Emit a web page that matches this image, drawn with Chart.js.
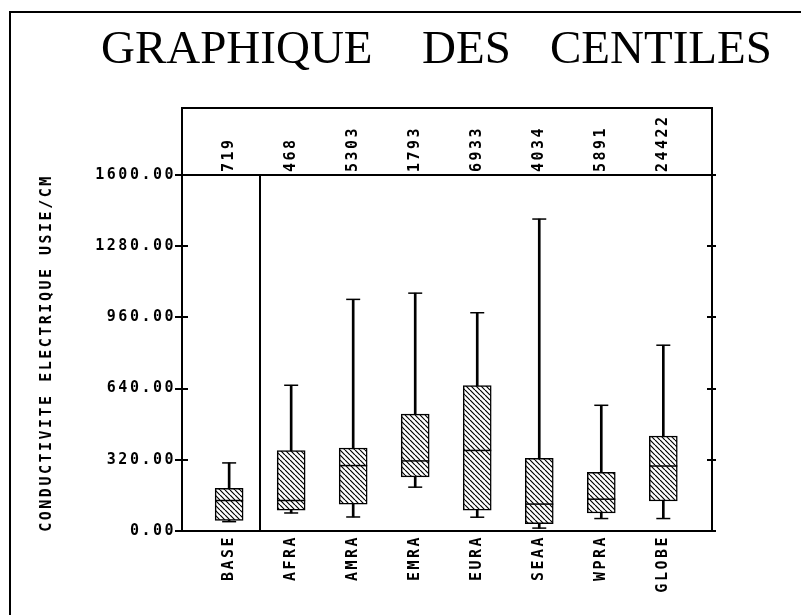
<!DOCTYPE html>
<html>
<head>
<meta charset="utf-8">
<script src="https://cdn.jsdelivr.net/npm/chart.js@4.4.0/dist/chart.umd.min.js"></script>
<style>
  html, body { margin: 0; padding: 0; background: #fff; }
</style>
</head>
<body>
<canvas id="graphiqueCentiles" width="801" height="615"></canvas>
<script>
// Régions et effectifs
const categories = ["BASE", "AFRA", "AMRA", "EMRA", "EURA", "SEAA", "WPRA", "GLOBE"];
const effectifs = [719, 468, 5303, 1793, 6933, 4034, 5891, 24422];

// Centiles (uS/cm)
const centileBas = [42, 81, 63, 197, 62, 13, 56, 56];
const quartileBas = [47, 94, 121, 243, 94, 33, 81, 135];
const mediane = [137, 137, 294, 315, 362, 121, 143, 292];
const quartileHaut = [192, 362, 373, 525, 654, 327, 264, 427];
const centileHaut = [306, 655, 1041, 1069, 981, 1402, 565, 835];

const graduationsY = [0, 320, 640, 960, 1280, 1600];

const POLICE = "'DejaVu Sans Mono', monospace";
const TAILLE = 15;
const X_MIN = -0.76;
const X_MAX = 7.785;
// l'axe du haut décale ses étiquettes tournées d'une hauteur de ligne vers la gauche
const DECALAGE_HAUT = (TAILLE * 1.2) / 62;

function hachures() {
  const c = document.createElement("canvas");
  c.width = c.height = 5;
  const g = c.getContext("2d");
  g.fillStyle = "#fff";
  g.fillRect(0, 0, 5, 5);
  g.strokeStyle = "#000";
  g.lineWidth = 1.2;
  g.beginPath();
  [-5, 0, 5].forEach((d) => {
    g.moveTo(d, 0);
    g.lineTo(d + 5, 5);
  });
  g.stroke();
  return g.createPattern(c, "repeat");
}

const memesTicks = (scale) => {
  scale.ticks = categories.map((c, i) => ({ value: i }));
};

const habillage = {
  id: "habillage",
  beforeDraw(chart) {
    chart.ctx.letterSpacing = "2.5px";
  },
  beforeDatasetsDraw(chart) {
    chart.ctx.letterSpacing = "0px";
  },
  afterDraw(chart) {
    const { ctx, chartArea: a, scales } = chart;
    ctx.save();
    ctx.letterSpacing = "0px";
    ctx.strokeStyle = "#000";
    ctx.lineWidth = 2;

    // cadre extérieur
    ctx.beginPath();
    ctx.moveTo(10, 615);
    ctx.lineTo(10, 12);
    ctx.lineTo(801, 12);
    ctx.stroke();

    // cadre des effectifs
    ctx.beginPath();
    ctx.moveTo(a.left, a.top);
    ctx.lineTo(a.left, 108);
    ctx.lineTo(a.right, 108);
    ctx.lineTo(a.right, a.top);
    ctx.stroke();

    // séparation BASE / régions
    const xs = Math.round(scales.x.getPixelForValue(0.5));
    ctx.beginPath();
    ctx.moveTo(xs, a.top);
    ctx.lineTo(xs, a.bottom);
    ctx.stroke();

    // graduations en croix
    ctx.beginPath();
    scales.y.ticks.forEach((t) => {
      const py = Math.round(scales.y.getPixelForValue(t.value));
      ctx.moveTo(a.left - 7, py);
      ctx.lineTo(a.left + 6, py);
      ctx.moveTo(a.right - 5, py);
      ctx.lineTo(a.right + 4, py);
    });
    ctx.stroke();

    // titre
    ctx.fillStyle = "#000";
    ctx.font = "47px 'Liberation Serif', serif";
    ctx.textBaseline = "alphabetic";
    ctx.textAlign = "left";
    ctx.fillText("GRAPHIQUE", 101, 63);
    ctx.fillText("DES", 422, 63);
    ctx.fillText("CENTILES", 550, 63);
    ctx.restore();
  },
};

const policeAxe = { family: POLICE, size: TAILLE, weight: "bold" };

const ctx = document.getElementById("graphiqueCentiles").getContext("2d");
new Chart(ctx, {
  type: "bar",
  data: {
    datasets: [
      {
        label: "moustaches",
        data: categories.map((c, i) => ({ x: i, y: [centileBas[i], centileHaut[i]] })),
        backgroundColor: "#000",
        borderWidth: 0,
        barThickness: 2,
        grouped: false,
        order: 4,
      },
      {
        label: "boites",
        data: categories.map((c, i) => ({ x: i, y: [quartileBas[i], quartileHaut[i]] })),
        backgroundColor: hachures(),
        borderColor: "#000",
        borderWidth: 1.5,
        borderSkipped: false,
        barThickness: 28,
        grouped: false,
        order: 3,
      },
      {
        type: "scatter",
        label: "mediane",
        data: categories.map((c, i) => ({ x: i, y: mediane[i] })),
        pointStyle: "line",
        radius: 14,
        borderColor: "#000",
        borderWidth: 1.5,
        order: 2,
      },
      {
        type: "scatter",
        label: "extremites",
        data: categories.flatMap((c, i) => [
          { x: i, y: centileBas[i] },
          { x: i, y: centileHaut[i] },
        ]),
        pointStyle: "line",
        radius: 7,
        borderColor: "#000",
        borderWidth: 1.5,
        order: 1,
      },
    ],
  },
  options: {
    responsive: false,
    animation: false,
    events: [],
    layout: { padding: 0 },
    plugins: {
      legend: { display: false },
      tooltip: { enabled: false },
      title: { display: false },
    },
    scales: {
      x: {
        type: "linear",
        position: "bottom",
        offset: false,
        min: X_MIN,
        max: X_MAX,
        afterBuildTicks: memesTicks,
        afterFit: (s) => { s.height = 84; },
        grid: { display: false, drawTicks: false, offset: false },
        border: { display: true, color: "#000", width: 2 },
        ticks: {
          autoSkip: false,
          minRotation: 90,
          maxRotation: 90,
          padding: 4,
          color: "#000",
          font: policeAxe,
          callback: (v) => categories[v],
        },
      },
      x2: {
        type: "linear",
        position: "top",
        offset: false,
        min: X_MIN - DECALAGE_HAUT,
        max: X_MAX - DECALAGE_HAUT,
        afterBuildTicks: memesTicks,
        afterFit: (s) => { s.height = 175; },
        grid: { display: false, drawTicks: false, offset: false },
        border: { display: true, color: "#000", width: 2 },
        ticks: {
          autoSkip: false,
          minRotation: 90,
          maxRotation: 90,
          padding: 3,
          color: "#000",
          font: policeAxe,
          callback: (v) => String(effectifs[v]),
        },
      },
      y: {
        type: "linear",
        position: "left",
        min: 0,
        max: 1600,
        afterBuildTicks: (s) => { s.ticks = graduationsY.map((v) => ({ value: v })); },
        afterFit: (s) => { s.width = 182; },
        grid: { display: false, drawTicks: false },
        border: { display: true, color: "#000", width: 2 },
        ticks: {
          padding: 6,
          color: "#000",
          font: policeAxe,
          callback: (v) => v.toFixed(2),
        },
        title: {
          display: true,
          text: "CONDUCTIVITE ELECTRIQUE USIE/CM",
          color: "#000",
          font: policeAxe,
          padding: { top: 38, bottom: 0 },
        },
      },
      y2: {
        type: "linear",
        position: "right",
        min: 0,
        max: 1600,
        afterFit: (s) => { s.width = 89; },
        grid: { display: false, drawTicks: false },
        border: { display: true, color: "#000", width: 2 },
        ticks: { display: false },
      },
    },
  },
  plugins: [habillage],
});
</script>
</body>
</html>
